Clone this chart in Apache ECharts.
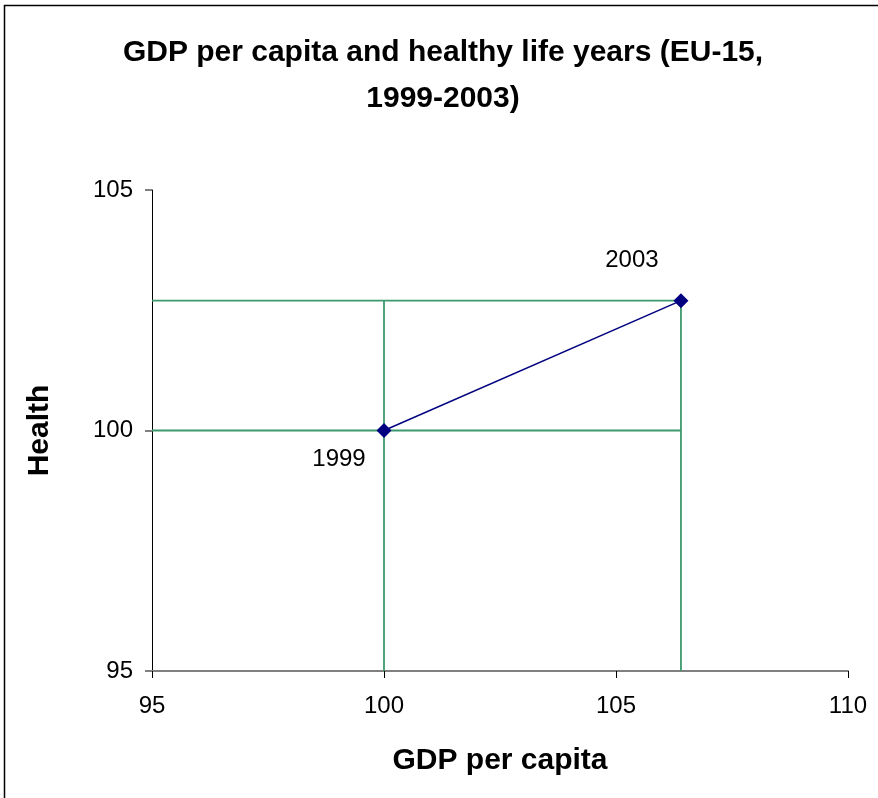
<!DOCTYPE html>
<html>
<head>
<meta charset="utf-8">
<script src="https://cdn.jsdelivr.net/npm/echarts@6/dist/echarts.min.js"></script>
<style>
  html, body { margin: 0; padding: 0; background: #fff; }
  #chart { width: 878px; height: 798px; }
</style>
</head>
<body>
<div id="chart"></div>
<script>
// GDP per capita vs health index, EU-15
const years = ['1999', '2003'];
const gdp = [100, 106.4];
const health = [100, 102.7];
const xTicks = [95, 100, 105, 110];
const yTicks = [95, 100, 105];

const chart = echarts.init(document.getElementById('chart'));
const font = '"Liberation Sans", Arial, sans-serif';
const green = '#3c9a6e';
const xMin = xTicks[0];
const yMin = yTicks[0];

const refLine = pts => ({
  type: 'line',
  data: pts,
  symbol: 'none',
  silent: true,
  z: 1,
  lineStyle: { color: green, width: 1.8 }
});

const option = {
  backgroundColor: '#fff',
  animation: false,
  textStyle: { fontFamily: font },
  title: {
    text: 'GDP per capita and healthy life years (EU-15,\n1999-2003)',
    left: 438,
    top: 25,
    textAlign: 'center',
    textStyle: { fontSize: 30, fontWeight: 'bold', color: '#000', lineHeight: 46, fontFamily: font }
  },
  grid: { left: 152, right: 30, top: 190, bottom: 127 },
  xAxis: {
    type: 'value',
    min: xTicks[0], max: xTicks[xTicks.length - 1], interval: 5,
    name: 'GDP per capita',
    nameLocation: 'middle',
    nameGap: 75,
    nameTextStyle: { fontSize: 30, fontWeight: 'bold', color: '#000', fontFamily: font },
    axisLine: { lineStyle: { color: '#808080', width: 2 } },
    axisTick: { show: true, length: 7, lineStyle: { color: '#000' } },
    axisLabel: { fontSize: 24, color: '#000', margin: 23, fontFamily: font },
    splitLine: { show: false }
  },
  yAxis: {
    type: 'value',
    min: yTicks[0], max: yTicks[yTicks.length - 1], interval: 5,
    name: 'Health',
    nameLocation: 'middle',
    nameGap: 97,
    nameTextStyle: { fontSize: 30, fontWeight: 'bold', color: '#000', fontFamily: font },
    axisLine: { show: true, lineStyle: { color: '#000', width: 1 } },
    axisTick: { show: true, length: 7, lineStyle: { color: '#808080', width: 2 } },
    axisLabel: { fontSize: 24, color: '#000', margin: 19, fontFamily: font },
    splitLine: { show: false }
  },
  series: [
    refLine([[xMin, health[0]], [gdp[1], health[0]]]),
    refLine([[xMin, health[1]], [gdp[1], health[1]]]),
    refLine([[gdp[0], yMin], [gdp[0], health[1]]]),
    refLine([[gdp[1], yMin], [gdp[1], health[1]]]),
    {
      type: 'line',
      data: gdp.map((g, i) => ({ value: [g, health[i]], name: years[i] })),
      symbol: 'diamond',
      symbolSize: 15,
      z: 5,
      lineStyle: { color: '#000080', width: 1.5 },
      itemStyle: { color: '#000080' },
      label: {
        show: true,
        formatter: p => p.name,
        fontSize: 24,
        color: '#000',
        fontFamily: font,
        position: 'inside'
      },
      labelLayout: p => p.dataIndex === 0
        ? { dx: -45, dy: 29 }
        : { dx: -49, dy: -40 }
    }
  ],
  graphic: [
    {
      type: 'rect',
      shape: { x: 4.5, y: 5.5, width: 880, height: 800 },
      style: { fill: 'none', stroke: '#000', lineWidth: 1.5 },
      silent: true
    }
  ]
};
chart.setOption(option);
window.addEventListener('resize', () => chart.resize());
</script>
</body>
</html>
